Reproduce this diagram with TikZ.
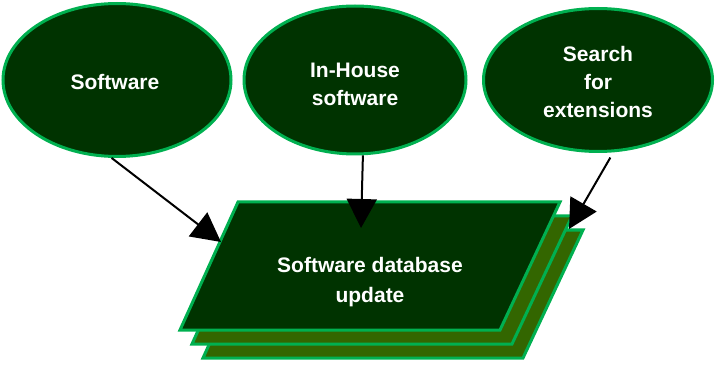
\documentclass[tikz,border=0pt]{standalone}
\usepackage{fontspec}
\setmainfont{Liberation Sans}
\usetikzlibrary{shapes.geometric,arrows.meta}
\definecolor{dkgreen}{HTML}{003300}
\definecolor{midgreen}{HTML}{336600}
\definecolor{edgegreen}{HTML}{00B050}
\tikzset{
  ell/.style={ellipse, draw=edgegreen, line width=3pt, fill=dkgreen, inner sep=0pt},
  lbl/.style={text=white, font=\fontsize{21}{28}\selectfont\bfseries, align=center},
  para/.style={draw=edgegreen, line width=3pt, line join=miter},
  conn/.style={line width=2pt, -{Triangle[length=29pt,width=30pt]}}
}
\begin{document}
\begin{tikzpicture}[x=1pt,y=-1pt]
\useasboundingbox (0,0) rectangle (720,366);
% ellipses
\node[ell, minimum width=228pt, minimum height=153pt] (sw) at (117,80) {};
\node[ell, minimum width=222pt, minimum height=148pt] (ih) at (355,80) {};
\node[ell, minimum width=229pt, minimum height=143pt] (se) at (598,80) {};
\node[lbl] (swt) at (115,82) {Software};
\node[lbl] (iht) at (355,84) {In-House\\software};
\node[lbl] (set) at (598,82) {Search\\for\\extensions};
% stacked parallelograms
\draw[para, fill=midgreen] (261,230) -- (583,230) -- (523,358) -- (203,358) -- cycle;
\draw[para, fill=midgreen] (250,216) -- (572,216) -- (512,344) -- (192,344) -- cycle;
\draw[para, fill=dkgreen] (238,202) -- (560,202) -- (500,330) -- (180,330) -- cycle;
\node[lbl, font=\fontsize{21}{30}\selectfont\bfseries] (db) at (370,282) {Software database\\update};
% arrow end points
\coordinate (ta) at (221,242);
\coordinate (tb) at (361,228);
\coordinate (tc) at (569,229);
\draw[conn] (sw.-94) -- (ta);
\draw[conn] (ih.-84) -- (tb);
\draw[conn, shorten <=6pt] (se.-78) -- (tc);
\end{tikzpicture}
\end{document}
